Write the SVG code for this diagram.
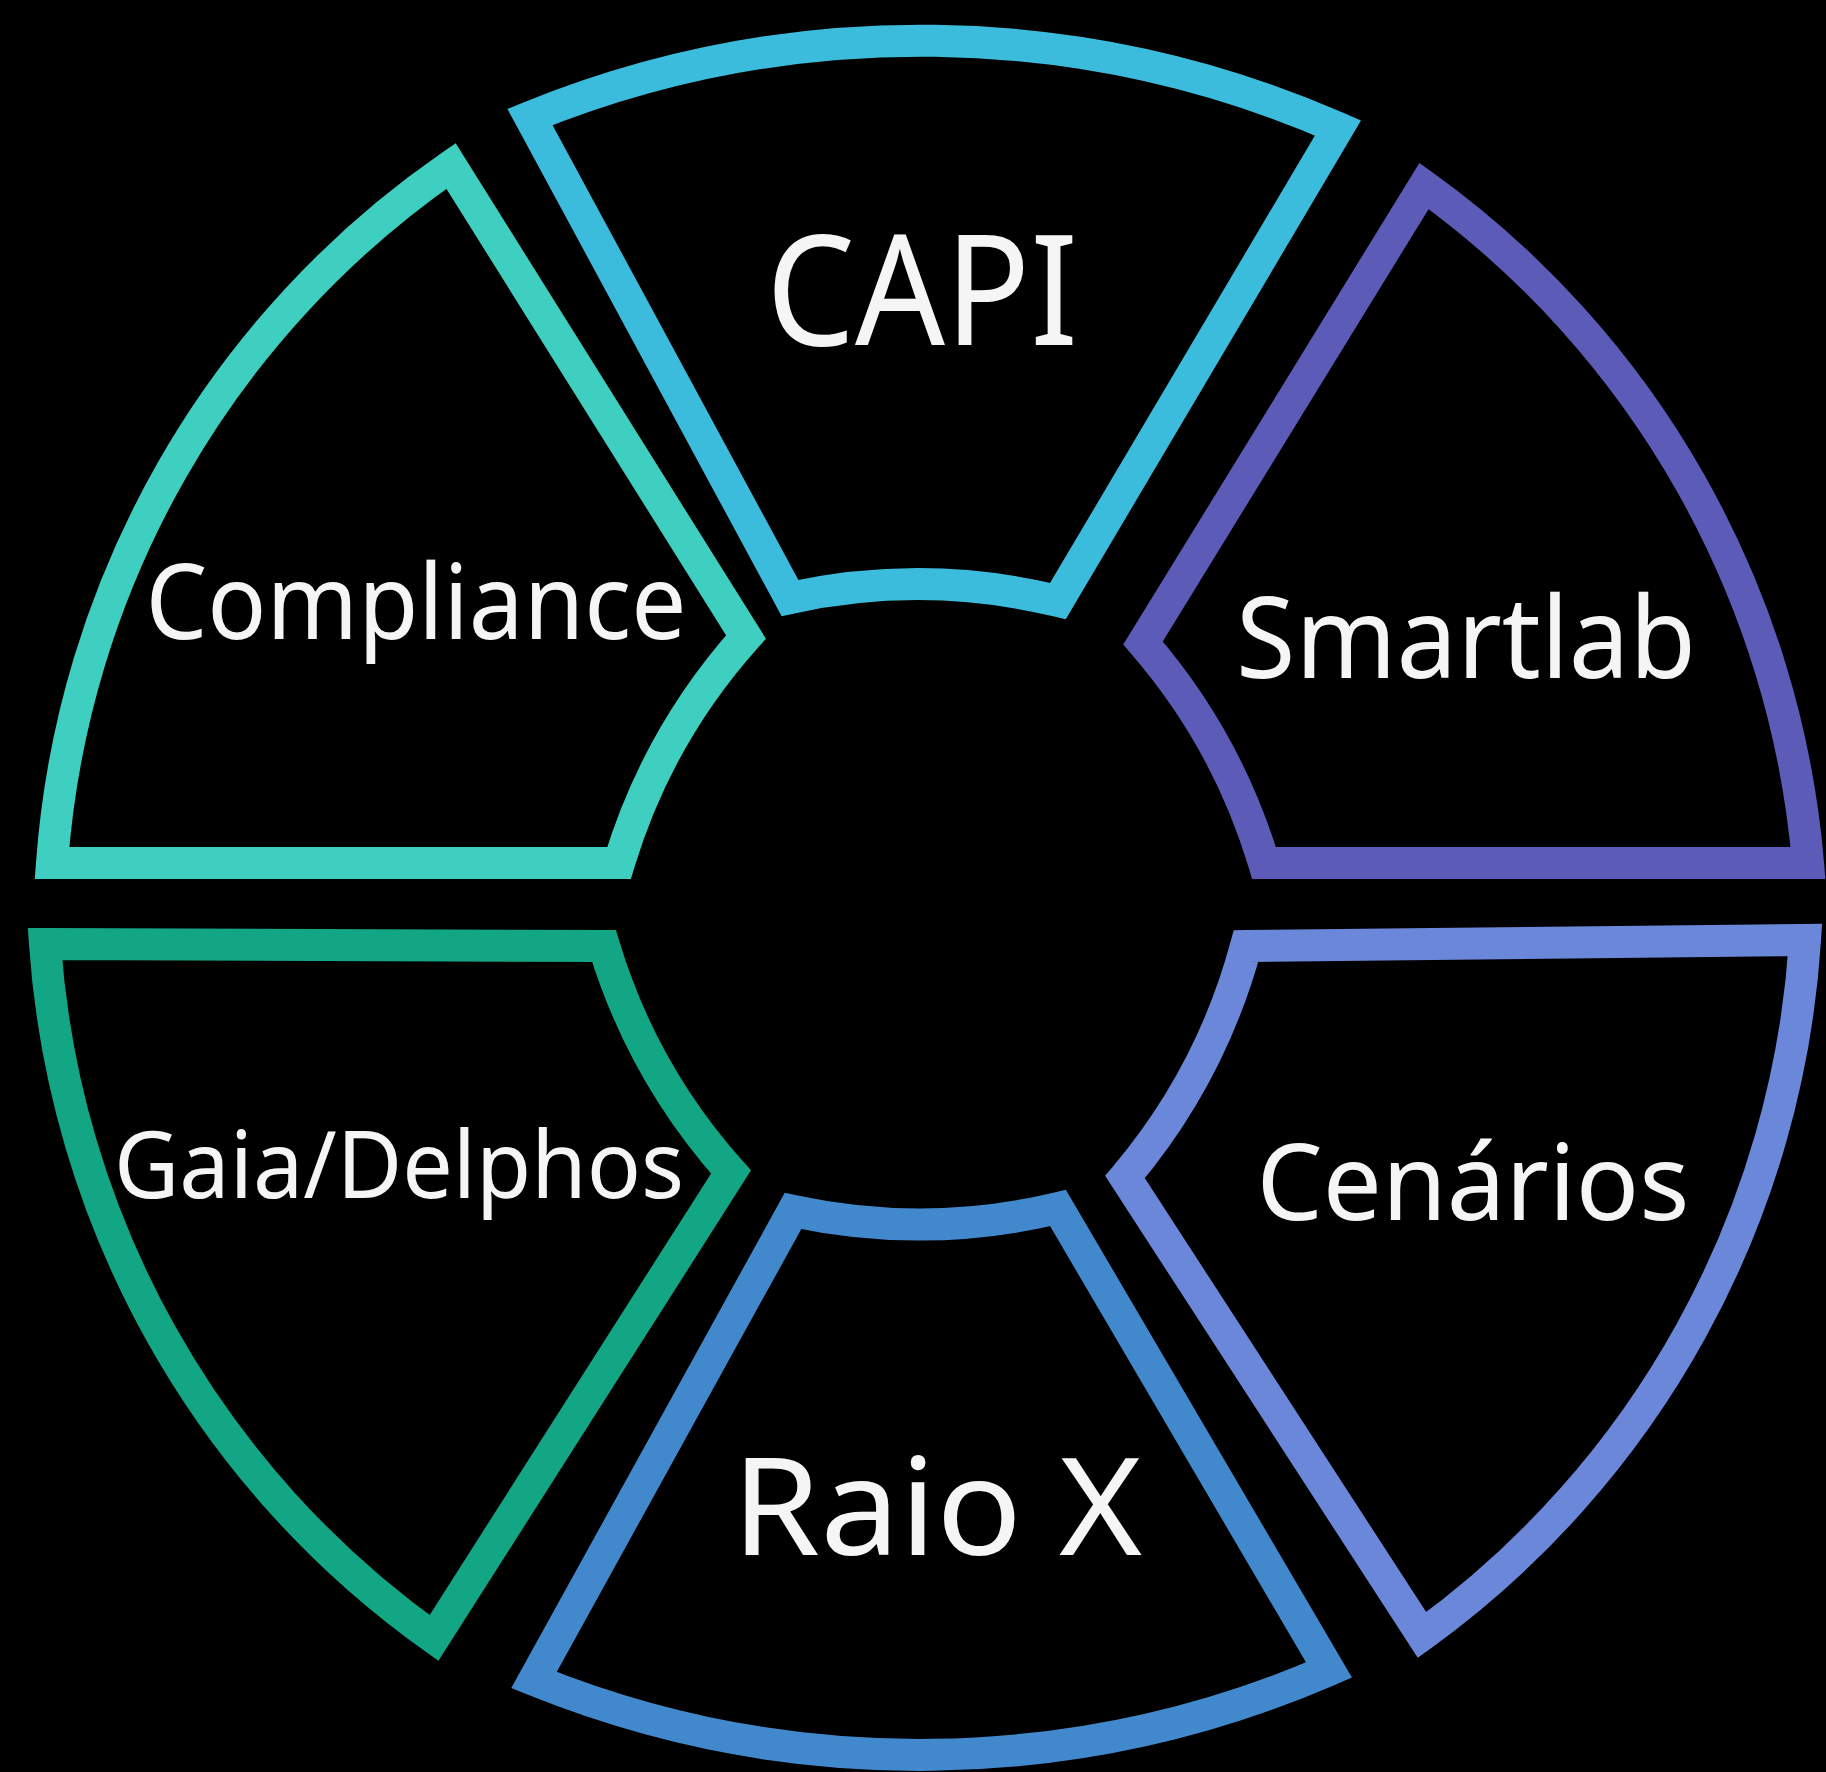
<svg xmlns="http://www.w3.org/2000/svg" width="1826" height="1772" viewBox="0 0 1826 1772">
<style>
.seg{fill:none;stroke-width:32;stroke-linejoin:miter;stroke-miterlimit:10}
.lbl{font-family:"Noto Sans","Open Sans","DejaVu Sans",sans-serif;fill:#f5f5f5;text-anchor:middle}
</style>
<rect x="0" y="0" width="1826" height="1772" fill="#000"/>
<g id="connectors"></g>
<g id="node-capi">
<path class="seg" stroke="#3CBCDC" d="M530,117 A1040,1040 0 0 1 1338,128 L1058,601 A600,600 0 0 0 790,598 Z"/>
<text class="lbl" x="922" y="345" font-size="154" textLength="312" lengthAdjust="spacingAndGlyphs">CAPI</text>
</g>
<g id="node-smartlab">
<path class="seg" stroke="#5C5CB8" d="M1424,186 A930,930 0 0 1 1808,863 L1264,863 A600,600 0 0 0 1143,643 Z"/>
<text class="lbl" x="1466" y="678" font-size="113" textLength="460" lengthAdjust="spacingAndGlyphs">Smartlab</text>
</g>
<g id="node-cenarios">
<path class="seg" stroke="#6B87DA" d="M1246,946 L1805,940 A930,930 0 0 1 1422,1635 L1125,1177 A600,600 0 0 0 1246,946 Z"/>
<text class="lbl" x="1473" y="1220" font-size="106" textLength="433" lengthAdjust="spacingAndGlyphs">Cenários</text>
</g>
<g id="node-raiox">
<path class="seg" stroke="#4189CC" d="M793,1211 A600,600 0 0 0 1058,1208 L1329,1670 A1030,1030 0 0 1 534,1680 Z"/>
<text class="lbl" x="937" y="1555" font-size="136" textLength="410" lengthAdjust="spacingAndGlyphs">Raio X</text>
</g>
<g id="node-gaia">
<path class="seg" stroke="#13A684" d="M45,944 L604,946 A600,600 0 0 0 731,1172 L434,1638 A930,930 0 0 1 45,944 Z"/>
<text class="lbl" x="399" y="1198" font-size="93" textLength="570" lengthAdjust="spacingAndGlyphs">Gaia/Delphos</text>
</g>
<g id="node-compliance">
<path class="seg" stroke="#3ECFC0" d="M52,863 A930,930 0 0 1 451,166 L746,637 A600,600 0 0 0 619,863 Z"/>
<text class="lbl" x="416" y="639" font-size="104" textLength="541" lengthAdjust="spacingAndGlyphs">Compliance</text>
</g>
</svg>
